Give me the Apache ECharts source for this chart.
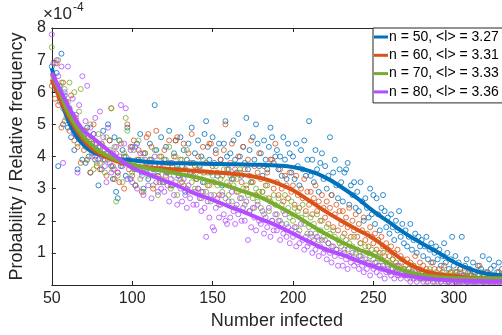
<!DOCTYPE html>
<html>
<head>
<meta charset="utf-8">
<script src="https://cdn.jsdelivr.net/npm/echarts@6.0.0/dist/echarts.min.js"></script>
<style>
  html, body { margin: 0; padding: 0; background: #fff; }
  #chart { width: 502px; height: 335px; }
</style>
</head>
<body>
<div id="chart"></div>
<script>
// all probabilities are in units of 1e-4 (axis shows x10^-4)
var xStart = 50; // first "number infected" value, one point per integer after it

var pts50 = [
  6.8, 6.3, 6.1, 6.6, 3.7, 6.2, 7.2, 5.0, 5.9, 5.6,
  4.9, 5.5, 4.6, 5.3, 4.2, 4.9, 3.6, 4.6, 4.8, 3.9,
  4.5, 3.8, 4.9, 4.0, 3.5, 4.4, 4.7, 3.9, 4.2, 3.1,
  4.3, 3.6, 4.8, 3.9, 4.1, 5.0, 4.5, 3.7, 3.3, 4.6,
  2.9, 2.7, 4.5, 3.7, 4.2, 4.0, 3.4, 4.9, 3.8, 3.3,
  4.3, 3.6, 3.1, 4.4, 3.9, 4.7, 3.5, 3.0, 4.1, 3.8,
  3.3, 4.4, 3.9, 3.6, 5.6, 4.2, 3.4, 3.7, 4.6, 3.2,
  3.9, 4.3, 3.5, 4.8, 3.8, 3.1, 4.1, 4.5, 3.6, 3.4,
  4.6, 3.7, 4.2, 2.9, 3.9, 4.4, 3.5, 4.9, 3.8, 4.1,
  3.3, 4.5, 3.7, 4.0, 3.2, 4.7, 5.1, 4.3, 3.9, 3.5,
  4.6, 3.8, 4.2, 3.4, 4.4, 3.9, 3.1, 4.4, 5.1, 4.0,
  3.6, 4.1, 3.3, 4.5, 3.9, 3.5, 4.7, 4.0, 3.4, 4.3,
  3.8, 5.2, 3.6, 4.2, 3.2, 4.6, 3.9, 5.0, 4.4, 3.7,
  4.1, 3.4, 4.5, 3.9, 3.6, 4.3, 4.9, 4.6, 3.8, 4.0,
  4.2, 3.6, 4.0, 3.4, 4.6, 3.9, 3.3, 4.4, 4.1, 3.5,
  4.0, 3.3, 4.4, 3.7, 3.1, 4.2, 3.6, 4.5, 3.4, 3.9,
  5.1, 3.4, 3.9, 3.2, 4.2, 3.6, 2.9, 3.8, 4.1, 3.3,
  3.7, 3.0, 3.4, 4.6, 2.8, 3.5, 3.9, 3.1, 2.7, 3.6,
  3.2, 2.6, 3.5, 3.6, 3.8, 2.5, 3.1, 2.8, 3.2, 2.4,
  2.9, 2.3, 3.2, 2.6, 2.0, 2.7, 2.4, 2.1, 3.0, 2.2,
  2.8, 1.9, 2.7, 2.2, 1.7, 2.4, 2.8, 2.3, 1.8, 2.1,
  1.6, 2.2, 1.8, 1.4, 2.0, 1.7, 2.3, 1.5, 1.9, 1.3,
  1.7, 1.2, 1.5, 1.9, 1.1, 1.4, 1.6, 1.0, 1.5, 1.2,
  1.4, 0.9, 1.2, 1.5, 0.8, 1.1, 1.3, 0.7, 1.0, 1.2,
  0.8, 1.1, 0.6, 0.9, 1.3, 0.7, 1.0, 0.5, 0.8, 1.5,
  0.6, 0.9, 0.4, 0.7, 0.5, 1.5, 0.3, 0.6, 0.8, 0.4,
  0.5, 0.3, 0.7, 0.4, 0.2, 0.6, 0.3, 0.5, 0.9, 0.3,
  0.4, 0.2, 0.8, 0.5, 0.3, 0.6, 0.2, 0.4, 0.7, 0.3, 0.5
];

var pts60 = [
  6.2, 6.5, 5.8, 6.9, 5.6, 6.0, 4.9, 6.3, 5.1, 5.7,
  5.5, 4.8, 5.9, 5.0, 4.5, 5.2, 4.3, 4.9, 3.8, 4.6,
  4.2, 4.8, 3.9, 4.6, 3.5, 4.4, 5.0, 4.0, 3.7, 4.3,
  3.6, 4.4, 3.9, 4.2, 3.4, 4.0, 4.5, 5.5, 3.7, 3.3,
  4.1, 3.5, 3.2, 4.4, 3.8, 3.0, 4.0, 5.0, 3.6, 4.3,
  3.4, 4.5, 3.1, 3.9, 4.2, 3.6, 2.9, 4.1, 3.7, 4.6,
  4.7, 3.9, 4.3, 3.0, 3.7, 4.8, 3.5, 3.2, 4.0, 3.6,
  4.2, 3.4, 3.8, 4.5, 3.1, 3.7, 4.0, 4.5, 4.6, 3.5,
  3.9, 3.2, 4.4, 3.6, 3.0, 4.1, 3.8, 4.7, 3.4, 3.7,
  3.3, 4.0, 3.6, 2.9, 4.3, 3.5, 3.8, 3.1, 4.4, 4.4,
  3.7, 3.2, 4.1, 3.5, 2.8, 3.9, 3.4, 4.2, 5.0, 3.6,
  3.1, 3.8, 4.4, 3.3, 3.6, 2.9, 4.0, 3.5, 3.2, 4.3,
  3.6, 3.0, 3.9, 3.4, 4.5, 3.2, 3.7, 2.8, 3.5, 4.1,
  3.3, 2.9, 3.7, 3.1, 3.5, 2.7, 3.9, 3.9, 3.0, 4.4,
  3.2, 2.8, 3.6, 3.0, 2.6, 3.4, 3.1, 2.7, 3.5, 2.9,
  3.1, 2.5, 3.4, 2.8, 2.4, 3.0, 2.7, 3.3, 2.3, 2.9,
  2.5, 2.9, 2.2, 2.7, 3.1, 2.3, 2.6, 2.0, 2.8, 2.4,
  2.1, 2.6, 1.9, 2.4, 2.8, 1.8, 2.2, 2.5, 1.7, 2.3,
  1.9, 2.3, 1.6, 2.1, 1.8, 2.4, 1.5, 2.0, 1.7, 2.2,
  1.5, 1.9, 1.3, 1.7, 2.1, 1.4, 1.6, 1.2, 1.8, 1.5,
  1.3, 1.6, 1.1, 1.4, 1.0, 1.5, 1.2, 0.9, 1.3, 1.1,
  0.9, 1.2, 0.8, 1.0, 0.7, 1.1, 0.6, 0.9, 0.8, 0.5,
  0.6, 0.8, 0.5, 0.7, 0.4, 0.6, 0.9, 0.3, 0.5, 0.7,
  0.4, 0.6, 0.3, 0.5, 0.2, 0.4, 0.7, 0.3, 0.5, 0.2,
  0.3, 0.5, 0.2, 0.4, 0.6, 0.2, 0.3, 0.1, 0.4, 0.3,
  0.2, 0.4, 0.3, 0.1, 0.5, 0.2, 0.3, 0.4, 0.1, 0.2,
  0.3, 0.2, 0.4, 0.1, 0.2, 0.3, 0.6, 0.2, 0.1, 0.3,
  0.2, 0.4, 0.1, 0.3, 0.2, 0.1, 0.3, 0.2, 0.4, 0.1, 0.2
];

var pts70 = [
  7.4, 6.4, 6.9, 6.2, 7.0, 5.8, 6.3, 5.5, 6.1, 5.2,
  5.7, 6.3, 5.3, 4.9, 6.0, 5.1, 4.4, 5.4, 6.1, 4.5,
  4.8, 4.3, 3.9, 4.5, 5.0, 4.1, 3.6, 4.4, 3.8, 4.7,
  3.8, 4.4, 4.0, 3.5, 4.6, 3.9, 4.2, 5.5, 3.6, 4.3,
  2.6, 3.4, 4.5, 3.8, 3.2, 4.1, 5.2, 4.8, 3.9, 3.7,
  3.5, 4.2, 3.1, 3.8, 4.5, 3.3, 3.9, 2.9, 4.1, 3.6,
  3.4, 3.9, 3.8, 3.1, 4.2, 3.6, 2.8, 4.0, 3.3, 3.7,
  3.2, 3.9, 3.5, 4.3, 3.0, 3.7, 3.4, 4.0, 2.8, 3.6,
  3.3, 3.9, 3.1, 3.6, 4.2, 2.9, 3.5, 3.2, 3.8, 3.0,
  3.6, 3.0, 3.4, 2.7, 3.9, 3.2, 2.9, 3.5, 3.1, 2.6,
  3.4, 2.8, 3.7, 3.1, 2.5, 3.3, 2.9, 3.6, 2.7, 3.2,
  2.8, 3.4, 2.6, 3.1, 2.4, 3.3, 2.9, 3.6, 2.7, 3.0,
  2.5, 3.1, 2.8, 2.3, 3.2, 2.7, 2.4, 3.0, 2.6, 2.9,
  2.4, 2.9, 2.2, 2.7, 3.1, 2.3, 2.6, 2.0, 2.8, 2.5,
  2.2, 2.7, 2.0, 2.5, 2.3, 2.8, 1.9, 2.4, 2.1, 2.6,
  2.0, 2.4, 1.8, 2.3, 1.7, 2.1, 2.5, 1.9, 2.2, 1.6,
  1.8, 2.1, 1.5, 1.9, 1.6, 2.2, 1.4, 1.7, 2.0, 1.5,
  1.4, 1.8, 1.3, 1.6, 1.2, 1.7, 1.5, 1.1, 1.4, 1.3,
  1.2, 1.5, 1.0, 1.4, 1.1, 1.3, 0.9, 1.2, 1.5, 1.0,
  1.1, 0.9, 1.3, 0.8, 1.0, 1.2, 0.7, 1.0, 0.9, 1.1,
  0.8, 1.0, 0.7, 0.9, 0.6, 0.8, 1.0, 0.5, 0.7, 0.6,
  0.7, 0.5, 0.8, 0.4, 0.6, 0.3, 0.5, 0.7, 0.4, 0.5,
  0.4, 0.3, 0.5, 0.2, 0.4, 0.6, 0.3, 0.2, 0.4, 0.3,
  0.2, 0.4, 0.3, 0.1, 0.3, 0.5, 0.2, 0.3, 0.1, 0.4,
  0.3, 0.2, 0.1, 0.3, 0.4, 0.2, 0.1, 0.3, 0.2, 0.4,
  0.2, 0.1, 0.3, 0.2, 0.4, 0.1, 0.2, 0.3, 0.1, 0.2,
  0.3, 0.1, 0.2, 0.2, 0.1, 0.3, 0.2, 0.4, 0.1, 0.2,
  0.1, 0.3, 0.2, 0.1, 0.2, 0.3, 0.1, 0.2, 0.1, 0.3, 0.2
];

var pts80 = [
  7.8, 6.9, 6.2, 7.0, 6.5, 5.7, 6.8, 3.8, 6.0, 5.5,
  6.8, 5.4, 5.0, 5.8, 4.7, 5.3, 3.5, 5.6, 4.5, 6.5,
  4.6, 5.1, 6.2, 4.3, 4.9, 4.0, 4.7, 5.2, 4.4, 3.9,
  5.4, 4.0, 4.6, 3.7, 3.2, 4.9, 3.8, 3.5, 4.1, 3.6,
  4.3, 3.5, 4.0, 5.6, 3.7, 4.4, 5.5, 3.3, 3.9, 4.2,
  3.2, 3.8, 4.3, 3.0, 3.6, 4.1, 3.4, 2.8, 3.9, 3.5,
  3.1, 3.7, 2.7, 3.4, 4.0, 3.2, 2.9, 3.6, 3.0, 3.8,
  2.9, 3.5, 3.1, 2.6, 3.3, 3.8, 2.8, 3.2, 2.5, 3.4,
  3.0, 2.6, 3.3, 2.8, 2.4, 3.1, 2.7, 3.5, 2.5, 2.9,
  2.5, 3.0, 2.7, 2.3, 2.9, 2.4, 1.5, 2.6, 2.1, 2.8,
  1.8, 1.7, 2.4, 2.7, 2.1, 2.5, 2.8, 2.2, 2.0, 1.9,
  2.6, 2.1, 2.9, 2.3, 1.9, 2.5, 2.2, 2.7, 2.0, 2.4,
  2.0, 2.6, 1.4, 2.3, 1.8, 2.4, 2.1, 1.7, 2.5, 2.0,
  1.9, 2.3, 1.6, 2.1, 1.8, 2.4, 1.5, 2.0, 1.7, 2.2,
  1.7, 2.0, 1.4, 1.9, 1.6, 2.2, 1.5, 1.8, 1.3, 1.7,
  1.5, 1.8, 1.2, 1.6, 1.3, 1.9, 1.4, 1.1, 1.5, 1.2,
  1.3, 1.6, 1.0, 1.4, 1.1, 1.5, 0.9, 1.2, 1.4, 1.0,
  1.1, 0.8, 1.3, 1.0, 0.7, 1.2, 0.9, 1.1, 0.6, 1.0,
  0.9, 0.6, 1.1, 0.8, 0.5, 0.9, 0.7, 1.0, 0.6, 0.8,
  0.7, 0.5, 0.9, 0.6, 0.4, 0.8, 0.5, 0.7, 0.3, 0.6,
  0.5, 0.7, 0.4, 0.6, 0.3, 0.5, 0.6, 0.2, 0.4, 0.5,
  0.4, 0.3, 0.5, 0.2, 0.4, 0.6, 0.3, 0.2, 0.4, 0.3,
  0.3, 0.2, 0.4, 0.1, 0.3, 0.2, 0.4, 0.1, 0.3, 0.2,
  0.2, 0.1, 0.3, 0.2, 0.1, 0.3, 0.2, 0.1, 0.2, 0.3,
  0.1, 0.2, 0.1, 0.3, 0.2, 0.1, 0.2, 0.1, 0.2, 0.1,
  0.2, 0.1, 0.1, 0.2, 0.1, 0.3, 0.1, 0.2, 0.1, 0.1,
  0.1, 0.2, 0.1, 0.1, 0.2, 0.1, 0.1, 0.2, 0.1, 0.1,
  0.2, 0.1, 0.1, 0.2, 0.1, 0.1, 0.2, 0.1, 0.1, 0.2, 0.1
];

// fitted curves
var fitX = [50, 55, 60, 65, 70, 75, 80, 90, 100, 110, 120, 130, 140, 150, 160, 170,
            180, 190, 200, 210, 220, 230, 240, 250, 260, 270, 280, 290, 300, 310, 320, 330];
var fit50 = [6.75, 5.85, 5.15, 4.65, 4.35, 4.15, 4.05, 3.93, 3.88, 3.83, 3.8, 3.79, 3.78, 3.77, 3.76, 3.75,
             3.74, 3.72, 3.67, 3.55, 3.35, 3.05, 2.7, 2.3, 1.95, 1.6, 1.3, 1.02, 0.72, 0.5, 0.36, 0.3];
var fit60 = [6.4, 5.8, 5.3, 4.85, 4.5, 4.25, 4.08, 3.86, 3.73, 3.66, 3.62, 3.59, 3.55, 3.51, 3.47, 3.42,
             3.33, 3.17, 2.95, 2.63, 2.3, 2.0, 1.72, 1.45, 1.08, 0.72, 0.47, 0.34, 0.27, 0.23, 0.2, 0.2];
var fit70 = [6.6, 6.0, 5.4, 4.95, 4.6, 4.35, 4.15, 3.9, 3.75, 3.63, 3.55, 3.45, 3.35, 3.22, 3.07, 2.9,
             2.73, 2.47, 2.2, 1.9, 1.6, 1.34, 1.12, 0.93, 0.66, 0.43, 0.31, 0.25, 0.22, 0.2, 0.2, 0.2];
var fit80 = [6.6, 6.1, 5.6, 5.15, 4.8, 4.6, 4.4, 4.0, 3.65, 3.45, 3.25, 3.05, 2.83, 2.65, 2.45, 2.26,
             2.05, 1.85, 1.6, 1.35, 1.12, 0.95, 0.76, 0.58, 0.42, 0.3, 0.22, 0.17, 0.14, 0.13, 0.12, 0.12];

var legendNames = ["n = 50, <l> = 3.27", "n = 60, <l> = 3.31", "n = 70, <l> = 3.33", "n = 80, <l> = 3.36"];
var colors = ["#0072BD", "#D95319", "#77AC30", "#B34DFF"];

var font = "Liberation Sans, Arial, Helvetica, sans-serif";
var axisColor = "#262626";

function toPairs(xs, vals) {
  var out = [];
  vals.forEach(function (v, i) { out.push([xs ? xs[i] : xStart + i, v]); });
  return out;
}

var allPts = [pts50, pts60, pts70, pts80];
var allFits = [fit50, fit60, fit70, fit80];

var series = [];
allPts.forEach(function (p, i) {
  series.push({
    name: "pts" + i,
    type: "scatter",
    data: toPairs(null, p),
    symbol: "circle",
    symbolSize: 5,
    silent: true,
    itemStyle: { color: "rgba(0,0,0,0)", borderColor: colors[i], borderWidth: 1 },
    z: 2
  });
});
allFits.forEach(function (f, i) {
  series.push({
    name: legendNames[i],
    type: "line",
    data: toPairs(fitX, f),
    smooth: true,
    showSymbol: false,
    silent: true,
    lineStyle: { width: 4, color: colors[i] },
    itemStyle: { color: colors[i] },
    z: 3
  });
});

var chart = echarts.init(document.getElementById("chart"));
chart.setOption({
  animation: false,
  backgroundColor: "#fff",
  textStyle: { fontFamily: font },
  grid: { left: 43, top: 28, width: 462, height: 262 },
  legend: {
    data: legendNames,
    orient: "vertical",
    left: 373,
    top: 28,
    icon: "rect",
    itemWidth: 14,
    itemHeight: 3,
    itemGap: 4.3,
    padding: [2, 4, 4, 1],
    backgroundColor: "#fff",
    borderColor: axisColor,
    borderWidth: 1,
    textStyle: { fontSize: 14, color: "#000", fontFamily: font, padding: [0, 0, 0, -4] }
  },
  graphic: [
    { type: "text", left: 43, top: 6, style: { text: "×10", fontSize: 17, fontFamily: font, fill: axisColor } },
    { type: "text", left: 73, top: 2, style: { text: "-4", fontSize: 12, fontFamily: font, fill: axisColor } }
  ],
  xAxis: [{
    type: "value",
    min: 50,
    max: 330,
    interval: 50,
    name: "Number infected",
    nameLocation: "middle",
    nameGap: 27,
    nameTextStyle: { fontSize: 18, color: axisColor, fontFamily: font },
    axisLine: { lineStyle: { color: axisColor, width: 1 } },
    axisTick: { inside: true, length: 4, lineStyle: { color: axisColor } },
    axisLabel: { fontSize: 16, color: axisColor, margin: 6, showMaxLabel: false },
    splitLine: { show: false }
  }, {
    type: "value",
    position: "top",
    min: 50,
    max: 330,
    interval: 50,
    axisLine: { lineStyle: { color: axisColor, width: 1 } },
    axisTick: { inside: true, length: 4, lineStyle: { color: axisColor } },
    axisLabel: { show: false },
    splitLine: { show: false }
  }],
  yAxis: {
    type: "value",
    min: 0,
    max: 8,
    interval: 1,
    name: "Probability / Relative frequency",
    nameLocation: "middle",
    nameGap: 18,
    nameTextStyle: { fontSize: 18, color: axisColor, fontFamily: font },
    axisLine: { show: true, lineStyle: { color: axisColor, width: 1 } },
    axisTick: { show: true, inside: true, length: 4, lineStyle: { color: axisColor } },
    axisLabel: {
      fontSize: 16, color: axisColor, margin: 6,
      formatter: function (v) { return v === 0 ? "" : String(v); }
    },
    splitLine: { show: false }
  },
  series: series
});
</script>
</body>
</html>
